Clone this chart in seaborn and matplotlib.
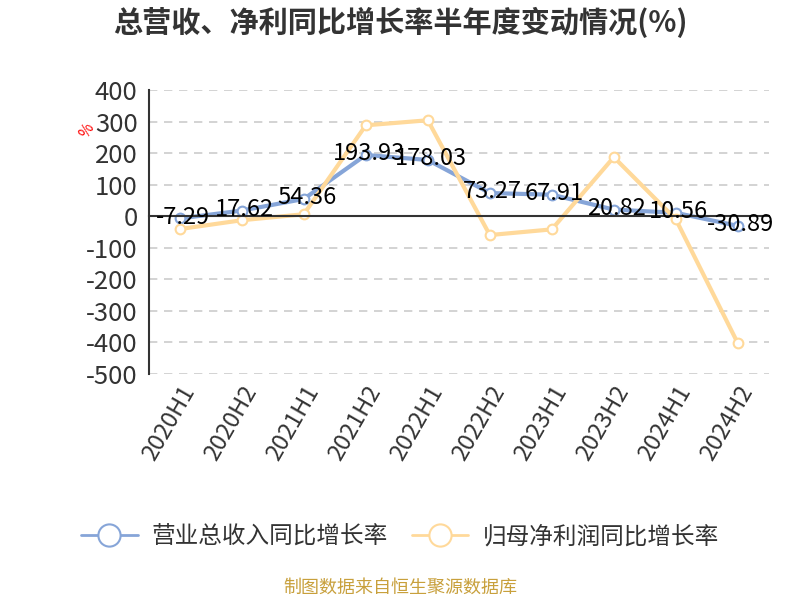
import pandas as pd
import matplotlib
matplotlib.use("Agg")
import matplotlib.pyplot as plt
from matplotlib.lines import Line2D
import seaborn as sns

# data
periods = ["2020H1", "2020H2", "2021H1", "2021H2", "2022H1",
           "2022H2", "2023H1", "2023H2", "2024H1", "2024H2"]
revenue_yoy = [-7.29, 17.62, 54.36, 193.93, 178.03, 73.27, 67.91, 20.82, 10.56, -30.89]
profit_yoy = [-41, -13, 6, 288, 304, -60, -42, 187, -10, -403]
yticks = [400, 300, 200, 100, 0, -100, -200, -300, -400, -500]

name_rev = "营业总收入同比增长率"
name_net = "归母净利润同比增长率"

sns.set_style("white")
plt.rcParams['font.family'] = ['Noto Sans CJK SC', 'DejaVu Sans']

blue = "#86a5d8"
orange = "#ffd99a"

df = pd.DataFrame({"period": periods, "rev": revenue_yoy, "net": profit_yoy})

fig = plt.figure(figsize=(8, 6), dpi=100)
ax = fig.add_axes([0.186, 0.377, 0.775, 0.473])

sns.lineplot(data=df, x="period", y="rev", ax=ax, color=blue, linewidth=3,
             marker="o", markersize=7, markerfacecolor="white",
             markeredgecolor=blue, markeredgewidth=1.5, sort=False)
sns.lineplot(data=df, x="period", y="net", ax=ax, color=orange, linewidth=3,
             marker="o", markersize=7, markerfacecolor="white",
             markeredgecolor=orange, markeredgewidth=1.5, sort=False)

# value labels on the revenue series
for i, v in enumerate(revenue_yoy):
    ax.annotate(f"{v:.2f}", (i, v), xytext=(2, 1), textcoords="offset points",
                ha="center", va="center", fontsize=17, color="black")

ax.set_xlim(-0.5, len(periods) - 0.5)
ax.set_ylim(-500, 400)
ax.set_yticks(yticks)
ax.set_yticklabels([str(t) for t in yticks], fontsize=18.5, color="#333333")
ax.tick_params(axis="y", length=6, width=1.5, color="#333333", pad=2)
for y in yticks:
    ax.axhline(y, color="#cccccc", linestyle=(0, (5, 4)), linewidth=1.2, zorder=0)

for s in ["top", "right"]:
    ax.spines[s].set_visible(False)
ax.spines["left"].set_color("#333333")
ax.spines["left"].set_linewidth(1.5)
ax.spines["bottom"].set_position(("data", 0))
ax.spines["bottom"].set_color("#333333")
ax.spines["bottom"].set_linewidth(1.5)

# tick marks at category boundaries on the zero line
ax.set_xticks([i + 0.5 for i in range(len(periods))], minor=True)
ax.set_xticks(range(len(periods)))
ax.set_xticklabels([])
ax.tick_params(axis="x", which="major", length=0)
ax.tick_params(axis="x", which="minor", length=6, width=1.5, color="#333333")
ax.set_xlabel("")
ax.set_ylabel("")

sec = ax.secondary_xaxis(0)
sec.set_xticks(range(len(periods)))
sec.set_xticklabels(periods, rotation=60, ha="right", rotation_mode="anchor",
                    fontsize=17, color="#333333")
sec.tick_params(length=0, pad=6)
sec.spines["bottom"].set_visible(False)

fig.text(0.109, 0.782, "%", color="red", fontsize=11, rotation=60,
         ha="center", va="center")

fig.text(0.5, 0.962, "总营收、净利同比增长率半年度变动情况(%)", fontsize=21,
         fontweight="bold", color="#333333", ha="center", va="center")

handles = [
    Line2D([], [], color=blue, linewidth=2, marker="o", markersize=16,
           markerfacecolor="white", markeredgecolor=blue, markeredgewidth=1.5),
    Line2D([], [], color=orange, linewidth=2, marker="o", markersize=16,
           markerfacecolor="white", markeredgecolor=orange, markeredgewidth=1.5),
]
fig.legend(handles, [name_rev, name_net], loc="center", bbox_to_anchor=(0.5, 0.105),
           ncol=2, frameon=False, fontsize=17, handlelength=2.4,
           columnspacing=1.0, handletextpad=0.6, labelcolor="#333333")

fig.text(0.5, 0.02, "制图数据来自恒生聚源数据库", fontsize=13, color="#c8a03c",
         ha="center", va="center")

fig.savefig("out.png", dpi=100)
